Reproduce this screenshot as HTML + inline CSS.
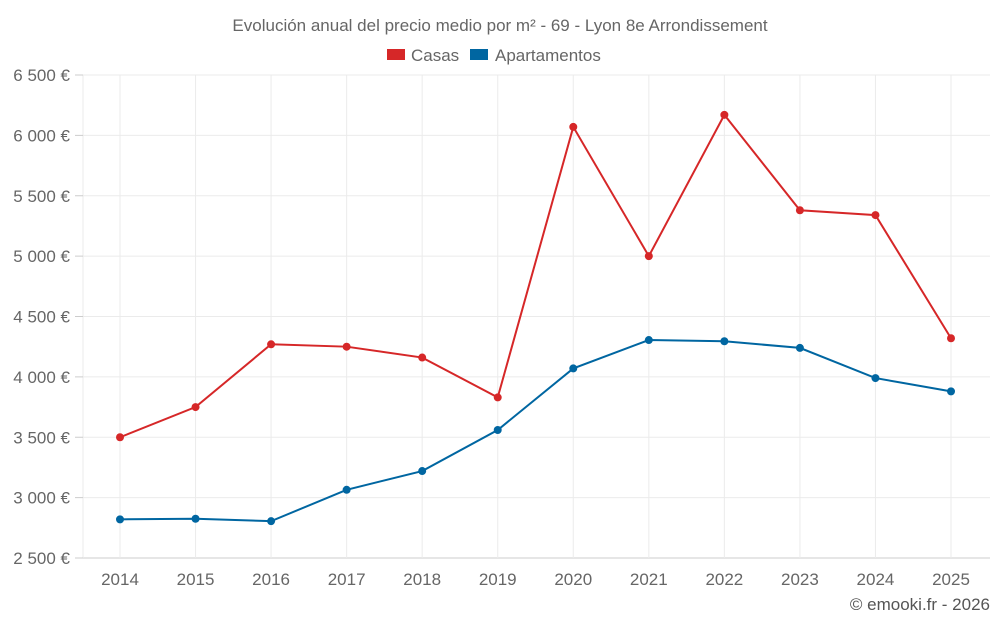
<!DOCTYPE html>
<html><head><meta charset="utf-8"><style>
body{margin:0;background:#fff;width:1000px;height:625px;overflow:hidden;font-family:"Liberation Sans",sans-serif}
text{font-family:"Liberation Sans",sans-serif}
</style></head><body>
<svg id="c" width="1000" height="625">
<text x="500" y="31" text-anchor="middle" font-size="17" fill="#666">Evolución anual del precio medio por m² - 69 - Lyon 8e Arrondissement</text>
<g>
<g><rect x="387" y="49" width="18" height="11" fill="#d62728"/><text x="411" y="61" font-size="17" fill="#666">Casas</text></g>
<g><rect x="470" y="49" width="18" height="11" fill="#0066a1"/><text x="495" y="61" font-size="17" fill="#666">Apartamentos</text></g>
</g>
<g id="grid"></g><g id="axes"></g><g id="series"></g>
<text x="990" y="610" text-anchor="end" font-size="17" fill="#555">© emooki.fr - 2026</text>
</svg>
<script>
const years=["2014","2015","2016","2017","2018","2019","2020","2021","2022","2023","2024","2025"];
const casas=[3500,3750,4270,4250,4160,3830,6070,5000,6170,5380,5340,4320];
const apartamentos=[2820,2825,2805,3065,3220,3560,4070,4305,4295,4240,3990,3880];
const yTicks=[2500,3000,3500,4000,4500,5000,5500,6000,6500];
const yTickLabels=["2 500 €","3 000 €","3 500 €","4 000 €","4 500 €","5 000 €","5 500 €","6 000 €","6 500 €"];
const NS="http://www.w3.org/2000/svg";
const L=83,R=990,T=75,B=558;
const y=v=>B-(v-2500)/4000*(B-T);
const x=i=>120+i*(951-120)/11;
function mk(t,a,p){const e=document.createElementNS(NS,t);for(const k in a)e.setAttribute(k,a[k]);p.appendChild(e);return e;}
const g=document.getElementById('grid'),ax=document.getElementById('axes'),s=document.getElementById('series');
yTicks.forEach((v,i)=>{
 const l=mk('line',{x1:L,x2:R,y1:y(v),y2:y(v),stroke:i==0?'#ccc':'#ebebeb'},g);
 
 
 const tk=mk('line',{x1:L-8,x2:L,y1:y(v),y2:y(v),stroke:'#ccc'},ax);
 
 
 const t=mk('text',{x:70,y:y(v)+6,'text-anchor':'end','font-size':17,fill:'#666'},ax);
 t.textContent=yTickLabels[i];
 
 
});
mk('line',{x1:L,x2:L,y1:T,y2:B,stroke:'#ebebeb'},g);
years.forEach((yr,i)=>{
 const l=mk('line',{x1:x(i),x2:x(i),y1:T,y2:B,stroke:'#ebebeb'},g);
 
 
 const t=mk('text',{x:x(i),y:585,'text-anchor':'middle','font-size':17,fill:'#666'},ax);
 t.textContent=yr;
 
 
});
function draw(data,color,name){
 const p=mk('polyline',{points:data.map((v,i)=>x(i)+','+y(v)).join(' '),fill:'none',stroke:color,'stroke-width':2},s);
 
 
 data.forEach((v,i)=>{
  const c=mk('circle',{cx:x(i),cy:y(v),r:4,fill:color},s);
  
  
 });
}
draw(casas,'#d62728','casas');
draw(apartamentos,'#0066a1','apartamentos');
</script>
</body></html>
